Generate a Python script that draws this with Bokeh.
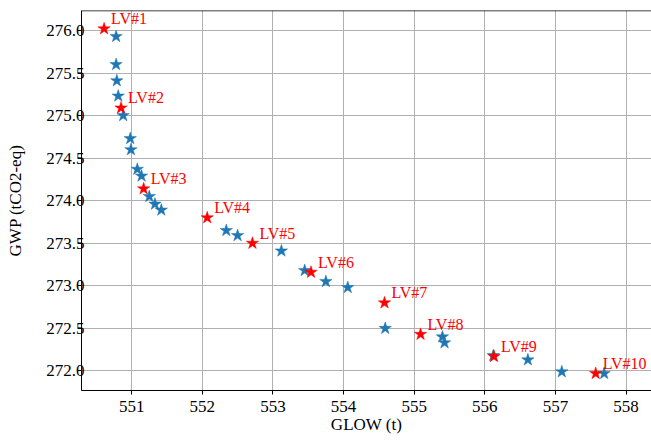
from bokeh.plotting import figure
from bokeh.models import FixedTicker, PrintfTickFormatter, Span, Range1d
from bokeh.core.properties import value
from bokeh.embed import file_html
from bokeh.resources import INLINE

# Pareto front points (blue)
blue_x = [550.78, 550.78, 550.79, 550.81, 550.88, 550.98, 550.99, 551.08, 551.14,
          551.25, 551.33, 551.42, 552.34, 552.50, 553.12, 553.45, 553.75, 554.06,
          554.59, 555.40, 555.43, 556.12, 556.61, 557.09, 557.69]
blue_y = [275.93, 275.60, 275.41, 275.23, 275.00, 274.73, 274.60, 274.37, 274.29,
          274.05, 273.96, 273.89, 273.65, 273.59, 273.41, 273.18, 273.05, 272.98,
          272.50, 272.40, 272.33, 272.18, 272.13, 271.99, 271.97]

# Selected layouts (red)
red_x = [550.61, 550.85, 551.17, 552.07, 552.71, 553.54, 554.58, 555.09, 556.13, 557.57]
red_y = [276.02, 275.09, 274.14, 273.80, 273.50, 273.16, 272.80, 272.43, 272.17, 271.97]
red_labels = ["LV#1", "LV#2", "LV#3", "LV#4", "LV#5", "LV#6", "LV#7", "LV#8", "LV#9", "LV#10"]

x_ticks = [551, 552, 553, 554, 555, 556, 557, 558]
y_ticks = [272.0, 272.5, 273.0, 273.5, 274.0, 274.5, 275.0, 275.5, 276.0]

FONT = "Liberation Serif"

p = figure(width=651, height=442, output_backend="svg", toolbar_location=None,
           x_range=Range1d(550.29, 558.36), y_range=Range1d(271.77, 276.235),
           min_border_left=81, min_border_right=0, min_border_top=10, min_border_bottom=52)
p.outline_line_color = None
p.background_fill_color = "white"
p.border_fill_color = "white"

p.grid.grid_line_color = "#b0b0b0"
p.grid.grid_line_width = 1
p.xaxis.ticker = FixedTicker(ticks=x_ticks)
p.yaxis.ticker = FixedTicker(ticks=y_ticks)
p.yaxis.formatter = PrintfTickFormatter(format="%.1f")
p.xgrid.ticker = FixedTicker(ticks=x_ticks)
p.ygrid.ticker = FixedTicker(ticks=y_ticks)

for ax in (p.xaxis, p.yaxis):
    ax.axis_line_color = "black"
    ax.axis_line_width = 1
    ax.major_tick_line_color = "black"
    ax.major_tick_out = 4
    ax.major_tick_in = 0
    ax.minor_tick_line_color = None
    ax.major_label_text_font = FONT
    ax.major_label_text_font_size = "17px"
    ax.major_label_text_color = "black"
    ax.axis_label_text_font = FONT
    ax.axis_label_text_font_size = "17px"
    ax.axis_label_text_font_style = "normal"
    ax.axis_label_text_color = "black"

p.xaxis.axis_label = "GLOW (t)"
p.yaxis.axis_label = "GWP (tCO2-eq)"
p.xaxis.major_label_standoff = 6
p.xaxis.axis_label_standoff = 0
p.yaxis.major_label_standoff = -7
p.yaxis.axis_label_standoff = 18

top = Span(location=276.235, dimension="width", line_color="black", line_width=1.5)
p.add_layout(top)

p.scatter(blue_x, blue_y, marker="star", size=13, fill_color="#1f77b4",
          line_color="#1f77b4", line_width=0.5)
p.scatter(red_x, red_y, marker="star", size=13, fill_color="#ff0000",
          line_color="#ff0000", line_width=0.5)
p.text(red_x, red_y, text=red_labels, x_offset=7, y_offset=-10,
       text_font=value(FONT), text_font_size="16px", text_color="#ff0000",
       text_baseline="alphabetic", text_align="left")

open("out.html", "w").write(file_html(p, INLINE))
